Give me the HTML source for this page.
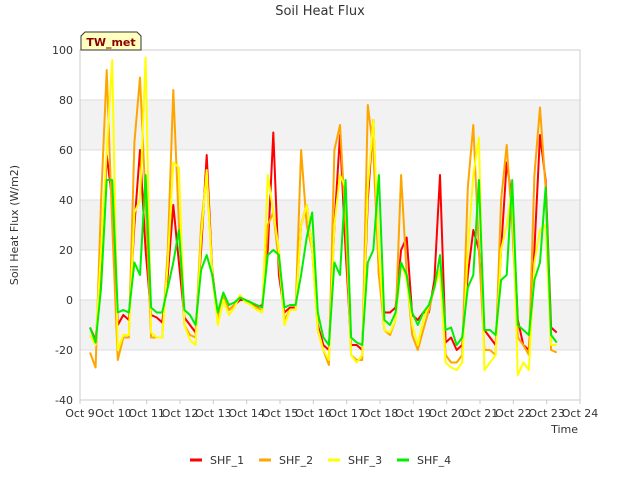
<!DOCTYPE html>
<html><head><meta charset="utf-8"><style>
body{margin:0;background:#fff;font-family:"Liberation Sans","DejaVu Sans",sans-serif;}
svg text{font-family:"DejaVu Sans","Liberation Sans",sans-serif;}
</style></head><body>
<svg id="chart" width="640" height="480" xmlns="http://www.w3.org/2000/svg">
<text x="320" y="15" text-anchor="middle" font-size="13" fill="#333">Soil Heat Flux</text>
<g id="bands"></g>
<g id="grid"></g>
<rect x="80" y="50" width="500" height="350" fill="none" stroke="#ccc"/>
<g id="yticks"></g>
<g id="xticks"></g>
<g id="series"></g>
<text transform="translate(18,225) rotate(-90)" text-anchor="middle" font-size="11" fill="#333">Soil Heat Flux (W/m2)</text>
<text x="578" y="433" text-anchor="end" font-size="11" fill="#333">Time</text>
<g>
<path d="M81,50 L81,36 L85,32 L137,32 L141,36 L141,50 Z" fill="#ffffc0" stroke="#333"/>
<text x="111" y="46" text-anchor="middle" font-size="11" font-weight="bold" fill="#8b0000">TW_met</text>
</g>
<g id="legend"></g>
</svg>
<script>
const seriesNames=["SHF_1","SHF_2","SHF_3","SHF_4"];
const seriesColors=["#ff0000","#ffa500","#ffff00","#00ee00"];
const yTicks=[-40,-20,0,20,40,60,80,100];
const xTickLabels=["Oct 9","Oct 10","Oct 11","Oct 12","Oct 13","Oct 14","Oct 15","Oct 16","Oct 17","Oct 18","Oct 19","Oct 20","Oct 21","Oct 22","Oct 23","Oct 24"];
const startDay=9.3, stepDay=1/6;
const shf1=[-11,-16,10,58,40,-10,-6,-8,30,60,20,-6,-7,-9,10,38,15,-7,-10,-13,20,58,12,-7,2,-4,-2,0,0,-1,-3,-2,20,67,10,-5,-3,-3,30,38,20,-10,-18,-20,30,66,20,-18,-18,-20,40,72,10,-5,-5,-3,20,25,-6,-8,-5,-5,8,50,-17,-15,-20,-18,10,28,20,-12,-15,-18,20,55,40,-8,-18,-20,20,66,48,-11,-13];
const shf2=[-21,-27,40,92,30,-24,-15,-15,63,89,40,-15,-15,-15,20,84,30,-10,-14,-15,30,50,12,-8,2,-4,-2,1,0,-2,-3,-4,30,35,15,-8,-4,-4,60,30,20,-12,-20,-26,60,70,30,-22,-24,-24,78,60,10,-12,-14,-8,50,10,-14,-20,-12,-4,5,12,-22,-25,-25,-22,45,70,20,-20,-20,-22,40,62,30,-15,-18,-22,50,77,45,-20,-21];
const shf3=[-14,-18,20,60,96,-20,-14,-14,35,40,97,-13,-15,-15,15,55,53,-10,-16,-18,25,52,10,-10,0,-6,-3,2,-1,-2,-4,-5,50,35,20,-10,-4,-4,30,38,20,-12,-20,-24,30,50,45,-22,-25,-22,45,72,20,-12,-13,-8,15,8,-10,-18,-8,-2,5,12,-25,-27,-28,-25,20,50,65,-28,-25,-22,20,30,45,-30,-25,-28,15,28,30,-18,-18];
const shf4=[-11,-17,5,48,48,-5,-4,-5,15,10,50,-3,-5,-5,5,15,28,-4,-6,-10,12,18,10,-5,3,-2,-1,1,0,-1,-2,-3,18,20,18,-3,-2,-2,10,25,35,-5,-15,-18,15,10,48,-15,-17,-18,15,20,50,-8,-10,-5,15,10,-5,-10,-5,-2,5,18,-12,-11,-18,-15,5,10,48,-12,-12,-14,8,10,48,-10,-12,-14,8,15,45,-14,-17];
const allSeries=[shf1,shf2,shf3,shf4];
const NS="http://www.w3.org/2000/svg";
const X0=80,X1=580,Y0=400,Y1=50;
function xScale(day){return X0+(day-9)/(24-9)*(X1-X0);}
function yScale(v){return Y0-(v+40)/140*(Y0-Y1);}
function mk(tag,attrs,parent){const e=document.createElementNS(NS,tag);for(const k in attrs)e.setAttribute(k,attrs[k]);parent.appendChild(e);return e;}
const bands=document.getElementById('bands');
[[60,80],[20,40],[-20,0]].forEach(b=>{
 const r=mk('rect',{x:X0,y:yScale(b[1]),width:X1-X0,height:yScale(b[0])-yScale(b[1]),fill:'#f2f2f2'},bands);
 
 
});
const grid=document.getElementById('grid'),yt=document.getElementById('yticks');
yTicks.forEach(v=>{
 const l=mk('line',{x1:X0,x2:X1,y1:yScale(v),y2:yScale(v),stroke:'#ddd'},grid);
 
 
 const t=mk('text',{x:73,y:yScale(v)+4,'text-anchor':'end','font-size':11,fill:'#333'},yt);
 t.textContent=v;
 
 
});
const xt=document.getElementById('xticks');
xTickLabels.forEach((s,i)=>{
 const x=xScale(9+i);
 const l=mk('line',{x1:x,x2:x,y1:Y0,y2:Y0+4,stroke:'#ccc'},xt);
 
 
 const t=mk('text',{x:x,y:417,'text-anchor':'middle','font-size':11,fill:'#333'},xt);
 t.textContent=s;
 
 
});
const sg=document.getElementById('series');
allSeries.forEach((arr,si)=>{
 const pts=arr.map((v,i)=>xScale(startDay+i*stepDay).toFixed(1)+','+yScale(v).toFixed(1)).join(' ');
 const p=mk('polyline',{points:pts,fill:'none',stroke:seriesColors[si],'stroke-width':2,'stroke-linejoin':'round'},sg);
 
 
});
const lg=document.getElementById('legend');
seriesNames.forEach((n,i)=>{
 const x=190+i*69;
 const g=mk('g',{},lg);
 
 
 mk('line',{x1:x,x2:x+12,y1:460,y2:460,stroke:seriesColors[i],'stroke-width':3},g);
 const t=mk('text',{x:x+20,y:464,'font-size':11,fill:'#333'},g);
 t.textContent=n;
});
</script>
</body></html>
